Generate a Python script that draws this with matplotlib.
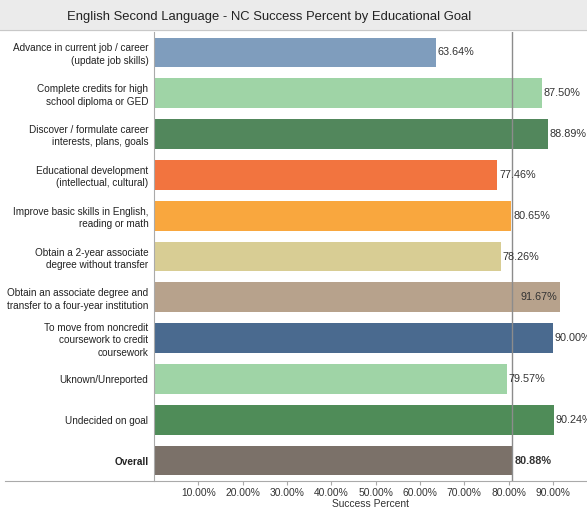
import matplotlib.pyplot as plt
from matplotlib.lines import Line2D
from matplotlib.patches import Rectangle

plt.rcParams['font.family'] = ['Liberation Sans', 'DejaVu Sans']

goals = [
    "Advance in current job / career\n(update job skills)",
    "Complete credits for high\nschool diploma or GED",
    "Discover / formulate career\ninterests, plans, goals",
    "Educational development\n(intellectual, cultural)",
    "Improve basic skills in English,\nreading or math",
    "Obtain a 2-year associate\ndegree without transfer",
    "Obtain an associate degree and\ntransfer to a four-year institution",
    "To move from noncredit\ncoursework to credit\ncoursework",
    "Uknown/Unreported",
    "Undecided on goal",
    "Overall",
]
success = [63.64, 87.50, 88.89, 77.46, 80.65, 78.26, 91.67, 90.00, 79.57, 90.24, 80.88]
colors = ["#7f9dbd", "#9fd4a6", "#52875c", "#f2743f", "#f9a73e", "#d8cd94",
          "#b7a28c", "#4a6a8f", "#9fd4a6", "#4f8c58", "#7b7169"]
xticks = [10, 20, 30, 40, 50, 60, 70, 80, 90]

fig = plt.figure(figsize=(5.87, 5.14), dpi=100)
ax = fig.add_axes([154 / 587, 1 - 481 / 514, 1 - 154 / 587, (481 - 32) / 514])

y = list(range(len(goals)))
ax.barh(y, success, height=0.73, color=colors)
ax.set_ylim(len(goals) - 0.5, -0.5)
ax.set_xlim(0, 97.7)

overall = success[-1]
ax.axvline(overall, color="#8c8c8c", lw=1, zorder=3)

for i, v in enumerate(success):
    bold = "bold" if goals[i] == "Overall" else "normal"
    if v > 91:
        ax.text(v - 0.6, i, "%.2f%%" % v, va="center", ha="right", fontsize=7.8,
                color="#333333", zorder=4)
    else:
        ax.text(v + 0.4, i, "%.2f%%" % v, va="center", ha="left", fontsize=7.8,
                color="#333333", fontweight=bold, zorder=4, clip_on=False)

ax.set_yticks(y)
ax.set_yticklabels(goals, fontsize=7.2, color="#222222", linespacing=1.3)
for lbl in ax.get_yticklabels():
    lbl.set_multialignment("right")
    if lbl.get_text() == "Overall":
        lbl.set_fontweight("bold")
ax.tick_params(axis="y", length=0, pad=4)

ax.set_xticks(xticks)
ax.set_xticklabels(["%.2f%%" % t for t in xticks], fontsize=7.4, color="#333333")
ax.tick_params(axis="x", length=3, color="#aaaaaa", pad=2)
ax.set_xlabel("Success Percent", fontsize=7.4, color="#333333", labelpad=1)

for s in ["top", "right", "bottom"]:
    ax.spines[s].set_visible(False)
ax.spines["left"].set_color("#aaaaaa")

# horizontal rule under the rows, spanning the label column too
fig.add_artist(Line2D([5 / 587, 1], [1 - 481 / 514] * 2, color="#aaaaaa", lw=0.8))

# title band
fig.add_artist(Rectangle((0, 1 - 30 / 514), 1, 30 / 514, color="#ebebeb", zorder=0))
fig.add_artist(Line2D([0, 1], [1 - 30 / 514] * 2, color="#c8c8c8", lw=0.8))
fig.text(269 / 587, 1 - 17 / 514, "English Second Language - NC Success Percent by Educational Goal",
         ha="center", va="center", fontsize=9.4, color="#222222")

fig.savefig("out.png", dpi=100)
